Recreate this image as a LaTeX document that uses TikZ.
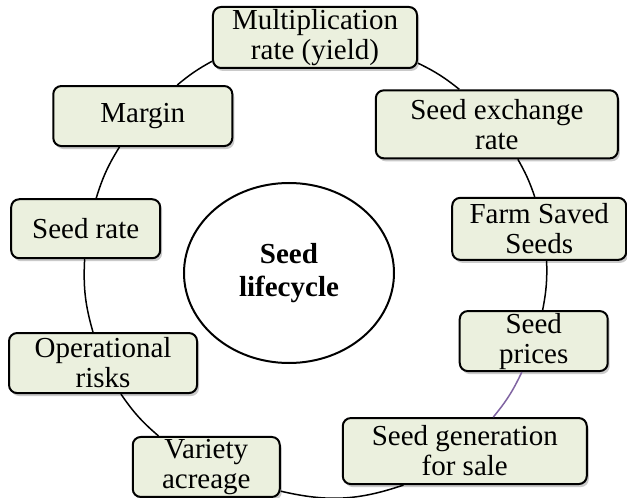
\documentclass[tikz,border=0pt]{standalone}
\usepackage{fontspec}
\setmainfont{Liberation Serif}
\usetikzlibrary{shapes.geometric,shadows}
\definecolor{boxfill}{HTML}{EBF0DE}
\definecolor{linkpurple}{HTML}{8064A2}
\tikzset{stage/.style={draw=black, line width=1pt, fill=boxfill, rounded corners=4pt, align=center, inner xsep=2pt, inner ysep=0pt, font=\fontsize{14.5}{15}\selectfont, drop shadow={shadow xshift=1pt, shadow yshift=-1.5pt, fill=black!35, opacity=.6}},
  link/.style={black, line width=0.75pt}}

\begin{document}
\begin{tikzpicture}[x=0.5pt,y=0.5pt]
  \useasboundingbox (-315,-228) rectangle (312,270);
  \node[stage, minimum width=102pt, minimum height=30.5pt] (mult) at (90:232.5) {Multiplication\\rate (yield)};
  \node[stage, minimum width=121pt, minimum height=34pt] (exch) at (38.7:233) {Seed exchange\\rate};
  \node[stage, minimum width=87pt, minimum height=31pt] (farm) at (10.4:228) {Farm Saved\\Seeds};
  \node[stage, minimum width=74pt, minimum height=30pt] (prices) at (-18:230) {Seed\\prices};
  \node[stage, minimum width=122pt, minimum height=33pt] (gen) at (-50.4:235) {Seed generation\\for sale};
  \node[stage, minimum width=73.5pt, minimum height=30pt] (variety) at (-118.9:225) {Variety\\acreage};
  \node[stage, minimum width=94pt, minimum height=30pt] (oprisk) at (203.7:231.5) {Operational\\risks};
  \node[stage, minimum width=74.5pt, minimum height=29.5pt] (rate) at (169.8:233) {Seed rate};
  \node[stage, minimum width=89.5pt, minimum height=30pt] (margin) at (138.2:231) {Margin};
  \node[draw, ellipse, line width=1pt, minimum width=105pt, minimum height=90pt, align=center, font=\fontsize{14.5}{16.5}\selectfont\bfseries] (core) at (-26,-3) {Seed\\lifecycle};

  % ring pieces, clockwise from the top
  \draw[link] (mult.-14) to[bend left=6.4] (exch.137.4);
  \draw[link] (exch.-59.5) to[bend left=5.4] (farm.98.3);
  \draw[link] (farm.-77.6) to[bend left=6.4] (prices.74.5);
  \draw[link, linkpurple] (prices.249.4) to[bend left=7] (gen.50.3);
  \draw[link] (gen.209.2) to[bend left=16] (variety.-18.8);
  \draw[link] (variety.147.2) to[bend left=7.5] (oprisk.-60.5);
  \draw[link] (oprisk.108.8) to[bend left=9.4] (rate.-92.3);
  \draw[link] (rate.71.8) to[bend left=7.3] (margin.233.1);
  \draw[link] (margin.42.4) to[bend left=5.5] (mult.193.9);
\end{tikzpicture}
\end{document}
